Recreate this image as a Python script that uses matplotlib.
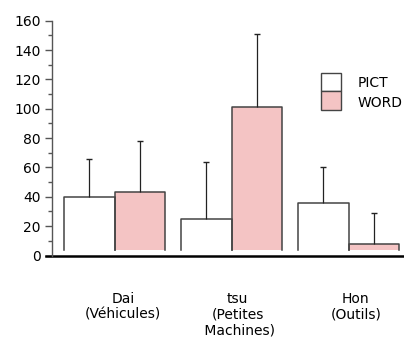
import numpy as np
import matplotlib
matplotlib.use("Agg")
import matplotlib.pyplot as plt
from matplotlib.patches import Rectangle

categories = ["Dai\n(Véhicules)", "tsu\n(Petites\n Machines)", "Hon\n(Outils)"]
series = ["PICT", "WORD"]
pict = [40, 25, 36]
pict_err_top = [66, 64, 60]
word = [43, 101, 8]
word_err_top = [78, 151, 29]
yticks = [0, 20, 40, 60, 80, 100, 120, 140, 160]

plt.rcParams['font.family'] = ['DejaVu Sans']

fig = plt.figure(figsize=(4.04, 3.38), dpi=100)
ax = fig.add_axes([52/404, (338-255.5)/338, 352/404, (255.5-20.7)/338])

x = np.arange(len(categories))
w = 0.432
base = 4
pink = '#f4c4c4'
edge = '#444444'

for vals, tops, off, fc in [(pict, pict_err_top, -w/2, 'white'), (word, word_err_top, w/2, pink)]:
    for xi, v, t in zip(x, vals, tops):
        c = xi + off
        ax.bar(c, v - base, width=w, bottom=base, color=fc, edgecolor='none', zorder=1)
        x0, x1 = c - w/2, c + w/2
        ax.plot([x0, x0, x1, x1], [base, v, v, base], color=edge, lw=1.1, zorder=2)
        # upward error bar only
        ax.vlines(c, v, t, color='#222222', lw=0.9, zorder=3)
        ax.plot(c, t, marker='_', ms=5, mew=1.0, color='#222222', zorder=3)

ax.set_xlim(-0.536, -0.536 + 352/117)
ax.set_ylim(0, 160)
ax.set_yticks(yticks)
ax.set_yticks(np.arange(10, 160, 20), minor=True)
ax.tick_params(axis='y', which='major', length=5, width=1, color='#555555', labelsize=10, pad=3)
ax.tick_params(axis='y', which='minor', length=3, width=1, color='#555555')
ax.set_xticks([])
for s in ['top', 'right', 'bottom']:
    ax.spines[s].set_visible(False)
ax.spines['left'].set_color('#555555')
ax.spines['left'].set_linewidth(1)
ax.plot([-0.017, 1], [0, 0], transform=ax.transAxes, color='black', lw=1.8, clip_on=False)

label_dx = [0.07, 0.05, 0.06]
for xi, lab, dx in zip(x, categories, label_dx):
    ax.text(xi + dx, -25, lab, ha='center', va='top', fontsize=10,
            linespacing=1.15, clip_on=False)

# legend boxes
for i, (name, fc) in enumerate(zip(series, ['white', pink])):
    y0 = 338 - 91 - i * 18.5
    fig.patches.append(Rectangle((320.7/404, y0/338), 20/404, 18.5/338,
                                 transform=fig.transFigure, facecolor=fc,
                                 edgecolor=edge, lw=1.0))
    fig.text(358/404, (y0 + 9 - i * 1.5)/338 - 0.004, name, fontsize=10, va='center')

fig.savefig('out.png', dpi=100)
